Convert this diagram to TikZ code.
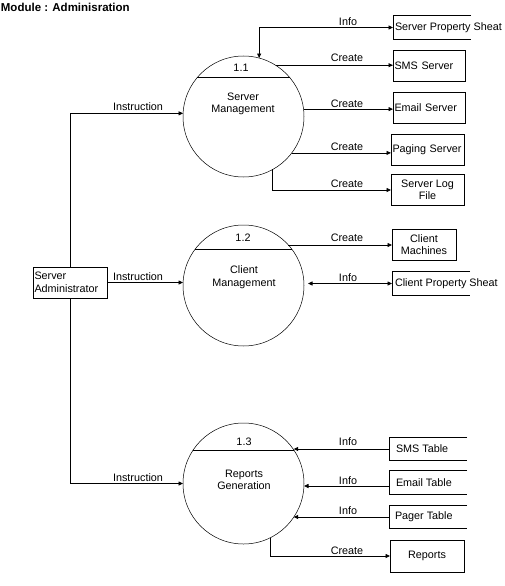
\documentclass[tikz,border=0pt]{standalone}
\usepackage{fontspec}
\setmainfont{Liberation Sans}
\usetikzlibrary{arrows.meta}

\tikzset{
  proc/.style={draw, circle, minimum size=121pt, inner sep=0pt, outer sep=0pt, line width=.5pt},
  ent/.style={draw, minimum height=31pt, inner sep=1.5pt, outer sep=0pt},
  store/.style={anchor=west, minimum height=23.5pt, inner ysep=0pt, outer sep=0pt},
  flow/.style={-{Triangle[length=4.5pt,width=4pt]}},
  flowboth/.style={{Triangle[length=4.5pt,width=4pt]}-{Triangle[length=4.5pt,width=4pt]}},
  lbl/.style={inner sep=1pt}
}

\begin{document}
\begin{tikzpicture}[x=1pt, y=-1pt, line width=.8pt, font=\fontsize{10.8}{12.5}\selectfont]
\useasboundingbox (0,0) rectangle (505,586);

\node[anchor=west, inner sep=.5pt, font=\fontsize{11.5}{13}\selectfont\bfseries] (title) at (0,7) {Module : Adminisration};

% processes
\node[proc] (p1) at (243.5,116.5) {};
\node[proc] (p2) at (243.5,285.5) {};
\node[proc] (p3) at (243.5,483.5) {};
\draw (p1.140) -- (p1.40);
\draw (p2.143) -- (p2.37);
\draw (p3.147) -- (p3.33);
\node (n1) at (241,68) {1.1};
\node (n2) at (243,238) {1.2};
\node (n3) at (244,442) {1.3};
\node[align=center] (t1) at (243,104) {Server\\Management};
\node[align=center] (t2) at (244,277) {Client\\Management};
\node[align=center] (t3) at (244,480) {Reports\\Generation};

% external entity
\node[ent, minimum width=74pt, text width=71pt, align=left] (admin) at (70,282.5) {Server\\Administrator};

% boxes on the right
\node[ent, minimum width=72pt, text width=69pt, align=left] (sms) at (429,66) {SMS Server};
\node[ent, minimum width=72pt, text width=69pt, align=left] (ems) at (429,107.5) {Email Server};
\node[ent, minimum width=73pt, text width=70pt, align=left] (pgs) at (427.5,150) {Paging Server};
\node[ent, minimum width=73pt, align=center] (log) at (427.5,190) {Server Log\\File};
\node[ent, minimum width=64pt, align=center] (cm) at (424,244.5) {Client\\Machines};
\node[ent, minimum width=74pt, minimum height=32pt] (rep) at (427,556) {Reports};

% data stores (open on the right)
\node[store, inner xsep=2pt] (sps) at (393,27.5) {Server Property Sheat};
\node[store, inner xsep=3pt] (cps) at (392,283.5) {Client Property Sheat};
\node[store, inner xsep=7pt] (smst) at (389,449) {SMS Table};
\node[store, inner xsep=7pt] (emt) at (389,482.5) {Email Table};
\node[store, inner xsep=6pt] (pgt) at (389,517) {Pager Table};
\foreach \s in {sps,cps,smst,emt,pgt}
  \draw (\s.north west) ++(78,0) -- (\s.north west) -- (\s.south west) -- ++(78,0);

% instructions
\draw[flow] (admin.north) |- (p1.177);
\draw[flow] (admin.east) -- (admin.east -| p2.west);
\draw[flow] (admin.south) |- (p3.180);
\foreach \y in {107,277,478}
  \node[lbl] (ins\y) at (138,\y) {Instruction};

% 1.1
\draw[flowboth] (p1.75) |- (sps.west);
\draw[flow] (p1.58) -- (p1.58 -| sms.west);
\draw[flow] (p1.7) -- (p1.7 -| ems.west);
\draw[flow] (p1.-37) -- (p1.-37 -| pgs.west);
\draw[flow] (p1.-61) |- (log.west);

% 1.2
\draw[flow] (p2.42) -- (p2.42 -| cm.west);
\draw[flowboth, shorten <=4pt] (cps.west -| p2.east) -- (cps.west);

% 1.3
\draw[flow] (smst.west) -- (smst.west -| p3.34);
\draw[flow] ([yshift=-3.5pt]emt.west) -- ([yshift=-3.5pt]emt.west -| p3.east);
\draw[flow] (pgt.west) -- (pgt.west -| p3.-34);
\draw[flow] (p3.-64) |- (rep.west);

\foreach \y in {58,104,147,184,238,551}
  \node[lbl] (cr\y) at (347,\y) {Create};
\foreach \y in {22,278,442,481,511}
  \node[lbl] (in\y) at (348,\y) {Info};
\end{tikzpicture}
\end{document}
